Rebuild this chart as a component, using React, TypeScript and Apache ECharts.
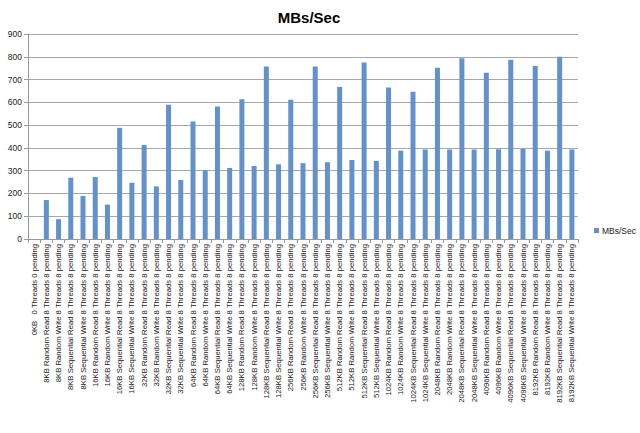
import React, { useEffect, useRef } from "react";
import * as echarts from "echarts";

const sizes = ["8KB", "16KB", "32KB", "64KB", "128KB", "256KB", "512KB", "1024KB", "2048KB", "4096KB", "8192KB"];
const ops = ["Random Read", "Random Write", "Sequential Read", "Sequential Write"];
const categories: string[] = ["0KB   0 Threads 0 pending"];
sizes.forEach((s) => ops.forEach((o) => categories.push(`${s} ${o} 8 Threads 8 pending`)));

const mbsPerSec = [
  0,
  171, 87, 269, 189,
  272, 151, 488, 247,
  413, 231, 589, 259,
  516, 302, 582, 312,
  614, 320, 757, 328,
  611, 333, 757, 337,
  667, 347, 775, 343,
  665, 388, 646, 393,
  752, 393, 793, 393,
  730, 394, 787, 396,
  760, 388, 800, 393,
];

const yTicks = { min: 0, max: 900, interval: 100 };

export default function App() {
  const ref = useRef<HTMLDivElement>(null);
  useEffect(() => {
    if (!ref.current) return;
    const chart = echarts.init(ref.current, null, { renderer: "svg" });
    chart.setOption({
      animation: false,
      backgroundColor: "#ffffff",
      title: {
        text: "MBs/Sec",
        left: 304,
        textAlign: "center",
        top: 5,
        textStyle: { fontFamily: "Liberation Sans", fontSize: 15, fontWeight: "bold", color: "#000" },
      },
      legend: {
        right: 4,
        top: 226,
        padding: 0,
        itemWidth: 5,
        itemHeight: 5,
        icon: "rect",
        textStyle: { fontFamily: "Liberation Sans", fontSize: 8.5, color: "#222", padding: [0, 0, 0, -2] },
        data: ["MBs/Sec"],
      },
      grid: { left: 28, right: 62, top: 34, bottom: 194, containLabel: false },
      xAxis: {
        type: "category",
        data: categories,
        axisLine: { lineStyle: { color: "#999" } },
        axisTick: { show: true, length: 4, lineStyle: { color: "#999" } },
        axisLabel: {
          interval: 0,
          rotate: 90,
          fontFamily: "Liberation Sans",
          fontSize: 7.7,
          color: "#222",
          margin: 5,
        },
      },
      yAxis: {
        type: "value",
        min: yTicks.min,
        max: yTicks.max,
        interval: yTicks.interval,
        axisLine: { show: true, lineStyle: { color: "#999" } },
        axisTick: { show: true, length: 4, lineStyle: { color: "#999" } },
        splitLine: { lineStyle: { color: "#a8a8a8" } },
        axisLabel: { fontFamily: "Liberation Sans", fontSize: 8.5, color: "#222", margin: 6 },
      },
      series: [
        {
          name: "MBs/Sec",
          type: "bar",
          data: mbsPerSec,
          barWidth: 5,
          itemStyle: { color: "#6291CC" },
        },
      ],
    });
    return () => chart.dispose();
  }, []);
  return (
    <div style={{ position: "fixed", left: 0, top: 0, width: 640, height: 433, background: "#fff" }}>
      <div ref={ref} style={{ width: 640, height: 433 }} />
    </div>
  );
}
